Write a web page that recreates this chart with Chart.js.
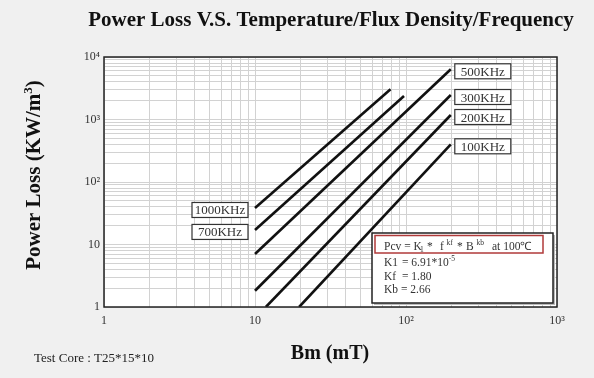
<!DOCTYPE html>
<html><head><meta charset="utf-8">
<script src="https://cdn.jsdelivr.net/npm/chart.js@4"></script>
<style>html,body{margin:0;padding:0;background:#f0f0f0}</style>
</head><body>
<canvas id="c" width="594" height="378"></canvas>
<script>
// ---- data ----
const frequencies = ['1000KHz', '700KHz', '500KHz', '300KHz', '200KHz', '100KHz'];
const bmStart = [10, 10, 10, 10, 11.8, 19.6];      // mT
const bmEnd = [79, 97, 198, 198, 198, 198];        // mT
const lossStart = [38.4, 17.1, 7.05, 1.82, 1, 1];  // KW/m3
const lossEnd = [3043, 2377, 6357, 2466, 1180, 401];
const labelAtStart = [true, true, false, false, false, false];
const xMajor = [1, 10, 100, 1000];
const xTickLabels = ['1', '10', '10²', '10³'];
const yMajor = [1, 10, 100, 1000, 10000];
const yTickLabels = ['1', '10', '10²', '10³', '10⁴'];
const formulaK1 = '6.91*10', formulaK1Exp = '-5', formulaKf = '1.80', formulaKb = '2.66';

const SERIF = '"Liberation Serif", "Times New Roman", serif';

function logTicks(majors) {
  const out = [];
  for (let i = 0; i < majors.length - 1; i++) {
    for (let k = 1; k < 10; k++) out.push(majors[i] * k);
  }
  out.push(majors[majors.length - 1]);
  return out;
}

const datasets = frequencies.map((f, i) => ({
  label: f,
  data: [{x: bmStart[i], y: lossStart[i]}, {x: bmEnd[i], y: lossEnd[i]}],
  showLine: true,
  borderColor: '#111',
  borderWidth: 2.6,
  pointRadius: 0,
  fill: false
}));

function drawRich(ctx, parts, x, y, align) {
  let w = 0;
  parts.forEach(p => { ctx.font = p.font; p.w = ctx.measureText(p.t).width; w += p.w; });
  let cx = align === 'center' ? x - w / 2 : x;
  parts.forEach(p => { ctx.font = p.font; ctx.textAlign = 'left'; ctx.fillText(p.t, cx, y + (p.dy || 0)); cx += p.w; });
}
function drawAt(ctx, t, font, x, y) {
  ctx.font = font; ctx.textAlign = 'left'; ctx.fillText(t, x, y);
}

const decor = {
  id: 'decor',
  beforeDraw(chart) {
    const {ctx, chartArea: a} = chart;
    ctx.save();
    ctx.fillStyle = '#f0f0f0';
    ctx.fillRect(0, 0, chart.width, chart.height);
    ctx.fillStyle = '#ffffff';
    ctx.fillRect(a.left, a.top, a.right - a.left, a.bottom - a.top);
    ctx.restore();
  },
  afterDraw(chart) {
    const {ctx, chartArea: a} = chart;
    ctx.save();
    // plot border
    ctx.strokeStyle = '#222';
    ctx.lineWidth = 1.5;
    ctx.strokeRect(a.left, a.top, a.right - a.left, a.bottom - a.top);

    ctx.fillStyle = '#111';
    ctx.textBaseline = 'alphabetic';
    // title
    drawRich(ctx, [{t: 'Power Loss V.S. Temperature/Flux Density/Frequency', font: 'bold 21px ' + SERIF}], 331, 26, 'center');
    // x title
    drawRich(ctx, [{t: 'Bm (mT)', font: 'bold 20px ' + SERIF}], 330, 359, 'center');
    // test core
    ctx.fillStyle = '#222';
    drawRich(ctx, [{t: 'Test Core : T25*15*10', font: '13px ' + SERIF}], 34, 362, 'left');
    // y title
    ctx.save();
    ctx.translate(40, 175);
    ctx.rotate(-Math.PI / 2);
    ctx.fillStyle = '#111';
    drawRich(ctx, [
      {t: 'Power Loss (KW/m', font: 'bold 21px ' + SERIF},
      {t: '3', font: 'bold 13px ' + SERIF, dy: -8},
      {t: ')', font: 'bold 21px ' + SERIF}
    ], 0, 0, 'center');
    ctx.restore();

    // line labels
    frequencies.forEach((f, i) => {
      const meta = chart.getDatasetMeta(i);
      const p0 = meta.data[0], p1 = meta.data[1];
      const bw = 56, bh = 15;
      let bx, by;
      if (labelAtStart[i]) { bx = p0.x - 7 - bw; by = p0.y + 2 - bh / 2; }
      else { bx = p1.x + 4; by = p1.y + 2 - bh / 2; }
      ctx.fillStyle = '#fff';
      ctx.fillRect(bx, by, bw, bh);
      ctx.strokeStyle = '#333';
      ctx.lineWidth = 1.2;
      ctx.strokeRect(bx, by, bw, bh);
      ctx.fillStyle = '#333';
      ctx.font = '13px ' + SERIF;
      ctx.textAlign = 'center';
      ctx.fillText(f, bx + bw / 2, by + bh - 3);
    });

    // formula box
    const fx = 372, fy = 233, fw = 181, fh = 70;
    ctx.fillStyle = '#bbb';
    ctx.fillRect(fx + 2, fy + 2, fw, fh);
    ctx.fillStyle = '#fff';
    ctx.fillRect(fx, fy, fw, fh);
    ctx.strokeStyle = '#222';
    ctx.lineWidth = 1.5;
    ctx.strokeRect(fx, fy, fw, fh);
    ctx.strokeStyle = '#b03a3a';
    ctx.lineWidth = 1.5;
    ctx.strokeRect(375, 235.5, 168, 17.5);
    ctx.fillStyle = '#333';
    const F = '11.5px ' + SERIF, S = '7.5px ' + SERIF;
    drawAt(ctx, 'Pcv = K', F, 384, 250);
    drawAt(ctx, '1', S, 420, 252);
    drawAt(ctx, '*', F, 427, 250);
    drawAt(ctx, 'f', F, 440, 250);
    drawAt(ctx, 'kf', S, 446.5, 245);
    drawAt(ctx, '*', F, 457, 250);
    drawAt(ctx, 'B', F, 466, 250);
    drawAt(ctx, 'kb', S, 476.5, 245);
    drawAt(ctx, 'at 100℃', F, 492, 250);
    drawAt(ctx, 'K1', F, 384, 266);
    drawRich(ctx, [{t: '= ' + formulaK1, font: F}, {t: formulaK1Exp, font: S, dy: -5}], 402, 266, 'left');
    drawAt(ctx, 'Kf', F, 384, 280);
    drawAt(ctx, '= ' + formulaKf, F, 402, 280);
    drawAt(ctx, 'Kb', F, 384, 293);
    drawAt(ctx, '= ' + formulaKb, F, 401, 293);
    ctx.restore();
  }
};

function labelFor(majors, labels) {
  return function (value) {
    const idx = majors.findIndex(m => Math.abs(m - value) < m * 1e-6);
    return idx >= 0 ? labels[idx] : '';
  };
}

new Chart(document.getElementById('c'), {
  type: 'scatter',
  data: {datasets},
  plugins: [decor],
  options: {
    responsive: false,
    animation: false,
    devicePixelRatio: 1,
    layout: {padding: {top: 57, right: 37, left: 0, bottom: 0}},
    plugins: {legend: {display: false}, tooltip: {enabled: false}, title: {display: false}},
    scales: {
      x: {
        type: 'logarithmic',
        min: 1, max: 1000,
        afterBuildTicks: s => { s.ticks = logTicks(xMajor).map(v => ({value: v, major: xMajor.includes(v)})); },
        afterFit: s => { s.height = 71; },
        grid: {color: '#d2d2d2', lineWidth: 1, drawTicks: false},
        border: {display: false},
        ticks: {
          autoSkip: false, maxRotation: 0, padding: 7,
          color: '#333', font: {family: SERIF, size: 12},
          callback: labelFor(xMajor, xTickLabels)
        }
      },
      y: {
        type: 'logarithmic',
        min: 1, max: 10000,
        afterBuildTicks: s => { s.ticks = logTicks(yMajor).map(v => ({value: v, major: yMajor.includes(v)})); },
        afterFit: s => { s.width = 104; },
        grid: {color: '#d2d2d2', lineWidth: 1, drawTicks: false},
        border: {display: false},
        ticks: {
          autoSkip: false, padding: 4,
          color: '#333', font: {family: SERIF, size: 12},
          callback: labelFor(yMajor, yTickLabels)
        }
      }
    }
  }
});
</script>
</body></html>
